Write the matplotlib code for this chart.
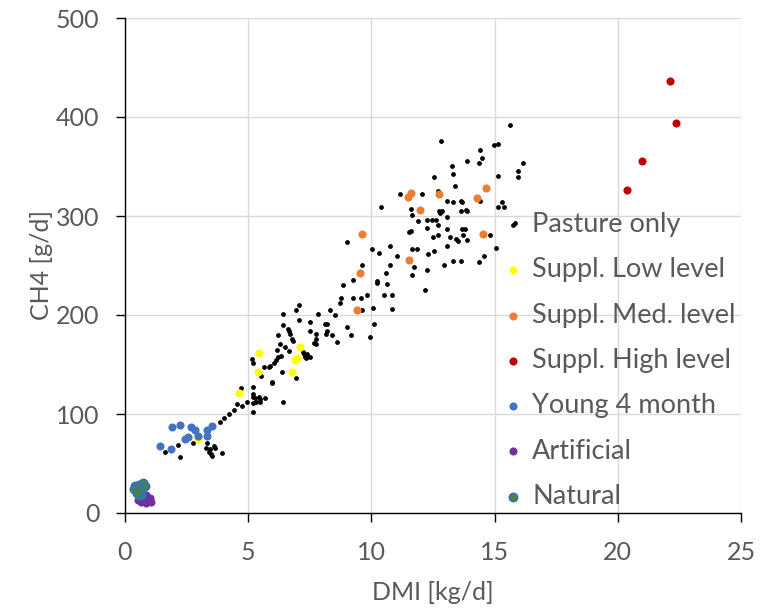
import numpy as np
import matplotlib.pyplot as plt

# pasture only (black)
pasture_dmi = [
    3.34, 2.77, 2.14, 1.61, 2.24, 3.29, 3.45, 3.62, 3.66, 3.49, 3.53, 3.41, 3.92,
    8.86, 9.24, 8.77, 9.24, 8.71, 7.06, 6.94, 8.33, 6.41, 7.82, 8.53, 7.06, 7.49,
    8.11, 8.19, 10.11, 9.03, 6.41, 6.61, 6.64, 6.69, 7.49, 7.75, 8.19, 8.14, 8.39,
    6.22, 9.17, 9.93, 6.76, 6.82, 7.75, 7.66, 7.75, 6.29, 6.49, 8.59, 6.15, 6.67,
    7.21, 7.26, 7.40, 7.34, 7.51, 7.30, 6.33, 6.19, 6.13, 6.03, 5.88, 5.84, 5.65,
    5.14, 5.20, 6.36, 6.94, 5.52, 5.95, 5.96, 5.20, 4.69, 5.18, 5.20, 5.29, 5.45,
    5.48, 5.69, 6.41, 5.20, 5.30, 5.46, 4.95, 4.75, 4.56, 4.43, 4.22, 4.03, 5.19,
    3.85, 9.03, 9.63,
    15.62, 12.81, 15.12, 14.98, 14.41, 14.48, 14.35, 13.90, 16.15, 13.27, 13.33,
    15.96, 15.96, 15.12, 12.56, 13.39, 11.16, 12.06, 12.69, 13.07, 13.33, 13.64,
    13.66, 14.41, 15.31, 15.38, 15.12, 10.39, 11.60, 11.66, 12.74, 12.78, 12.85,
    13.07, 13.63, 13.83, 13.90, 15.82, 11.91, 12.24, 12.44, 12.62, 12.69, 12.24,
    13.07, 13.66, 13.79, 12.69, 12.49, 13.20, 13.42, 13.52, 13.71, 13.90, 14.81,
    11.53, 11.59, 13.06, 10.01, 10.76, 10.32, 11.66, 11.86, 12.56, 12.30, 11.02,
    15.04, 14.55, 10.76, 9.63, 11.72, 12.24, 11.66, 12.94, 13.32, 13.64, 14.35,
    10.59, 10.24, 10.21, 10.64, 12.18, 9.81, 10.52, 10.83, 9.56, 10.07, 10.83,
]
pasture_ch4 = [
    70.9, 70.6, 68.6, 61.3, 56.2, 65.9, 64.3, 67.6, 65.3, 59.5, 57.5, 61.9, 60.8,
    229.8, 235.1, 216.7, 216.7, 211.9, 210.6, 205.5, 205.5, 200.8, 200.8, 199.5, 194.5, 192.7,
    191.4, 191.4, 191.4, 188.0, 190.0, 185.4, 183.4, 181.3, 183.4, 181.3, 183.7, 181.3, 180.3,
    180.3, 180.3, 177.3, 175.9, 173.6, 175.3, 171.8, 170.8, 171.2, 167.2, 172.3, 164.2, 163.5,
    162.8, 160.4, 160.4, 156.7, 157.7, 157.7, 158.1, 157.1, 154.4, 151.1, 148.3, 147.0, 147.0,
    155.1, 151.1, 142.3, 135.9, 138.5, 132.2, 130.9, 127.4, 126.1, 120.1, 117.4, 115.7, 117.4,
    114.7, 115.7, 112.0, 110.7, 111.7, 112.0, 112.0, 108.3, 109.7, 103.9, 99.9, 96.2, 102.2,
    92.1, 274.2, 205.5,
    391.8, 375.7, 373.1, 371.3, 366.3, 358.5, 353.5, 355.2, 353.5, 350.5, 342.8,
    345.8, 339.4, 340.8, 339.4, 330.0, 321.9, 321.9, 324.9, 315.5, 314.1, 315.5,
    313.8, 315.1, 314.1, 309.1, 309.1, 309.1, 307.5, 300.7, 305.0, 303.0, 305.0,
    299.4, 304.7, 306.5, 304.7, 293.3, 295.0, 296.4, 296.4, 296.4, 291.3, 288.3,
    286.9, 286.9, 286.9, 280.5, 278.8, 278.8, 277.2, 274.5, 280.5, 275.8, 280.5,
    283.6, 285.3, 269.4, 266.4, 269.4, 263.1, 266.4, 266.4, 264.4, 261.4, 259.6,
    268.1, 260.0, 250.3, 250.3, 248.9, 245.5, 240.9, 250.3, 255.0, 255.0, 253.3,
    242.5, 234.1, 232.4, 231.1, 225.0, 220.3, 220.3, 220.3, 217.0, 207.2, 205.9,
]

low_dmi = [5.45, 7.11, 6.91, 6.98, 5.38, 6.79, 4.62, 2.95]
low_ch4 = [161.5, 167.5, 154.4, 157.0, 142.3, 142.3, 121.4, 74.4]

med_dmi = [9.41, 9.55, 9.61, 11.47, 11.60, 11.53, 11.98, 12.75, 14.28, 14.67, 14.54]
med_ch4 = [205.5, 242.5, 282.0, 318.9, 323.6, 255.3, 306.5, 321.9, 318.6, 328.3, 282.2]

high_dmi = [22.10, 22.35, 21.00, 20.38]
high_ch4 = [436.0, 393.5, 355.5, 326.6]

young_dmi = [1.92, 2.24, 2.69, 2.85, 2.95, 2.54, 2.45, 3.33, 3.53, 3.33, 1.41, 1.87]
young_ch4 = [86.5, 88.5, 86.5, 83.4, 77.4, 76.4, 74.7, 83.4, 88.1, 77.4, 67.3, 64.3]

art_dmi = [0.87, 1.00, 0.66, 0.87, 0.53, 1.07, 0.73]
art_ch4 = [18.2, 14.8, 11.4, 10.4, 13.1, 11.4, 14.8]

nat_dmi = [0.39, 0.56, 0.73, 0.80, 0.37, 0.64, 0.66, 0.56, 0.50]
nat_ch4 = [27.2, 28.3, 30.0, 27.2, 23.9, 23.2, 18.2, 18.2, 20.5]

grey = '#595959'
plt.rcParams['font.family'] = ['Lato', 'DejaVu Sans']
plt.rcParams['font.size'] = 18

fig = plt.figure(figsize=(7.65, 6.09), dpi=100)
ax = fig.add_axes([125 / 765, 1 - 513 / 609, 616 / 765, 495 / 609])

big = 34
ax.scatter(pasture_dmi, pasture_ch4, s=12, color='black', lw=0, label='Pasture only', zorder=3)
ax.scatter(low_dmi, low_ch4, s=big, color='#ffff00', lw=0, label='Suppl. Low level', zorder=3)
ax.scatter(med_dmi, med_ch4, s=big, color='#ed7d31', lw=0, label='Suppl. Med. level', zorder=3)
ax.scatter(high_dmi, high_ch4, s=big, color='#c00000', lw=0, label='Suppl. High level', zorder=3)
ax.scatter(young_dmi, young_ch4, s=big, color='#4472c4', lw=0, label='Young 4 month', zorder=3)
ax.scatter(art_dmi, art_ch4, s=big, color='#7030a0', lw=0, label='Artificial', zorder=3)
ax.scatter(nat_dmi, nat_ch4, s=big, facecolor='#548235', edgecolor='#2e75b6', lw=1.3,
           label='Natural', zorder=3)

ax.set_xlim(0, 25)
ax.set_ylim(0, 500)
ax.set_xticks(np.arange(0, 26, 5))
ax.set_yticks(np.arange(0, 501, 100))
ax.grid(True, color='#d9d9d9', lw=1.0)
ax.set_axisbelow(True)
for side in ['top', 'right']:
    ax.spines[side].set_visible(False)
for side in ['left', 'bottom']:
    ax.spines[side].set_color('black')
    ax.spines[side].set_linewidth(1.0)
ax.tick_params(direction='out', length=6.5, width=1.0, color='black', labelcolor=grey, pad=12)
ax.tick_params(axis='x', pad=14)

ax.set_xlabel('DMI [kg/d]', color=grey, labelpad=12)
ax.set_ylabel('CH4 [g/d]', color=grey, labelpad=2)

leg = ax.legend(loc='upper left', bbox_to_anchor=(0.617, 0.608), frameon=False,
                handlelength=0.55, handletextpad=0.45, labelspacing=0.75, borderpad=0,
                borderaxespad=0, fontsize=19.5)
for t in leg.get_texts():
    t.set_color(grey)

fig.savefig('out.png', dpi=100)
